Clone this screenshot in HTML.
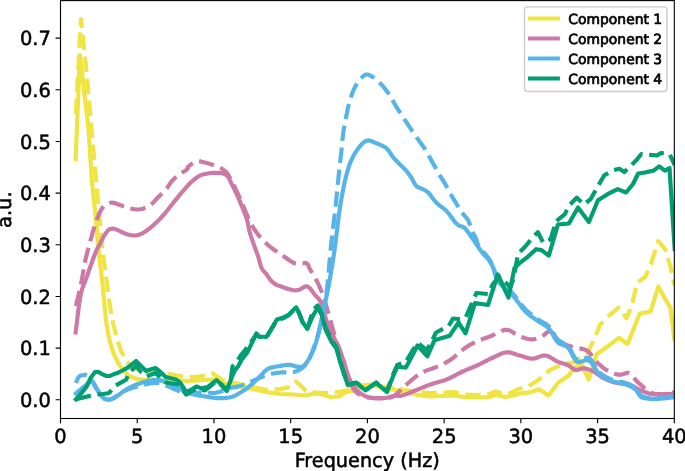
<!DOCTYPE html>
<html><head><meta charset="utf-8"><style>html,body{margin:0;padding:0;background:#fff;overflow:hidden}svg{display:block}text{text-rendering:geometricPrecision}</style></head><body>
<svg width="685" height="471" viewBox="0 0 685 471">
<defs><clipPath id="ax"><rect x="60.5" y="0.6" width="613.8" height="417.9"/></clipPath></defs>
<rect width="685" height="471" fill="#fff"/>
<g clip-path="url(#ax)" fill="none" stroke-linejoin="round">
<path d="M75.6,159.0 L80.0,55.0 L84.6,95.0 L88.6,130.0 L91.8,180.0 L96.0,220.0 L98.5,250.0 L101.5,275.0 L104.0,300.0 L106.2,322.3 L109.1,338.7 L113.6,353.6 L118.8,364.0 L123.3,370.0 L128.8,376.0 L137.5,379.0 L148.0,380.0 L159.4,381.0 L172.4,380.0 L188.5,381.0 L204.5,380.0 L214.0,379.5 L220.6,382.8 L236.6,386.0 L252.7,389.2 L268.7,392.4 L280.0,394.0 L293.0,394.5 L306.0,395.5 L314.0,393.5 L323.0,394.5 L330.0,397.0 L339.0,396.5 L346.0,392.0 L354.0,391.0 L364.0,386.0 L370.0,385.0 L380.0,387.0 L391.0,389.0 L404.0,392.0 L418.0,395.0 L431.0,396.5 L444.0,396.0 L455.0,395.5 L463.0,397.0 L476.0,397.5 L489.0,397.0 L496.0,395.0 L505.0,397.0 L513.0,395.5 L520.0,393.5 L529.2,392.4 L538.9,389.2 L548.5,395.6 L558.1,382.8 L567.8,376.3 L575.8,366.7 L582.2,365.1 L588.6,379.5 L596.7,353.9 L606.3,347.4 L619.1,337.8 L627.5,344.0 L639.8,313.5 L650.5,311.6 L658.4,286.4 L665.1,299.0 L670.4,307.6 L674.3,339.0" stroke="#F0E442" stroke-width="4.17" stroke-linecap="square"/>
<path d="M75.9,114.0 L80.9,19.2 L86.3,69.0 L91.6,130.0 L96.2,180.0 L102.5,250.0 L106.5,280.0 L109.1,300.0 L112.1,319.3 L116.6,337.2 L121.0,350.6 L126.3,361.0 L132.2,367.0 L140.0,371.0 L150.0,373.0 L160.0,374.0 L170.0,374.0 L182.0,376.5 L195.0,377.0 L202.0,376.0 L213.0,373.5 L222.0,380.0 L236.0,383.0 L252.0,387.0 L268.0,390.0 L280.0,389.0 L288.0,387.5 L296.0,381.5 L300.0,385.0 L306.0,391.0 L315.0,392.5 L325.0,393.0 L335.0,392.5 L346.0,390.5 L356.0,388.0 L364.0,385.0 L370.0,384.5 L380.0,386.0 L391.0,387.5 L404.0,390.0 L418.0,392.0 L431.0,393.0 L444.0,392.5 L455.0,392.0 L463.0,394.5 L476.0,395.0 L489.0,394.0 L496.0,391.5 L505.0,394.5 L513.0,392.0 L518.3,389.0 L526.2,387.7 L532.0,384.0 L538.9,379.5 L550.1,369.9 L561.3,365.1 L574.2,361.9 L587.0,353.9 L593.5,341.0 L599.9,325.0 L609.5,315.3 L618.6,307.6 L626.6,318.3 L631.9,305.0 L637.2,282.4 L645.2,277.1 L650.5,265.2 L658.4,241.2 L665.1,249.2 L670.4,266.5 L674.3,285.0" stroke="#F0E442" stroke-width="4.17" stroke-linecap="butt" stroke-dasharray="15.43 6.67"/>
<path d="M75.6,332.5 L76.5,325.5 L77.4,318.2 L78.3,310.8 L79.2,303.8 L80.2,297.4 L81.3,292.0 L82.0,289.4 L82.8,287.1 L83.6,285.0 L84.4,283.1 L85.2,281.1 L86.0,279.0 L86.8,276.8 L87.5,274.7 L88.3,272.5 L89.0,270.3 L89.8,268.1 L90.6,265.8 L91.6,263.2 L92.6,260.3 L93.6,257.5 L94.6,254.7 L95.7,252.2 L96.6,250.0 L97.2,248.9 L97.7,247.9 L98.2,247.0 L98.7,246.1 L99.3,245.2 L99.8,244.2 L100.5,242.9 L101.1,241.5 L101.8,240.1 L102.5,238.7 L103.2,237.3 L104.0,236.0 L104.8,234.8 L105.6,233.5 L106.4,232.3 L107.3,231.2 L108.2,230.2 L109.1,229.5 L109.9,229.1 L110.7,228.9 L111.5,228.8 L112.4,228.7 L113.2,228.7 L114.0,228.8 L114.7,228.9 L115.4,229.1 L116.1,229.4 L116.8,229.7 L117.5,230.1 L118.3,230.4 L119.3,230.9 L120.5,231.4 L121.6,232.0 L122.8,232.5 L123.9,233.1 L125.0,233.5 L125.9,233.8 L126.7,234.1 L127.5,234.4 L128.3,234.6 L129.2,234.8 L130.0,235.0 L130.8,235.2 L131.6,235.3 L132.5,235.4 L133.3,235.5 L134.1,235.5 L135.0,235.5 L136.0,235.4 L136.9,235.3 L137.9,235.1 L138.9,234.8 L139.9,234.4 L141.0,234.0 L142.7,233.1 L144.5,232.0 L146.4,230.7 L148.3,229.3 L150.2,227.8 L152.1,226.3 L154.1,224.5 L156.2,222.6 L158.2,220.6 L160.2,218.6 L162.1,216.5 L164.0,214.4 L165.8,212.3 L167.5,210.2 L169.2,208.0 L170.9,205.8 L172.6,203.7 L174.2,201.6 L175.7,199.8 L177.1,198.1 L178.5,196.4 L179.9,194.7 L181.3,193.0 L182.7,191.4 L184.1,189.8 L185.5,188.2 L186.9,186.6 L188.3,185.0 L189.7,183.5 L191.2,182.1 L192.6,180.8 L194.1,179.6 L195.7,178.3 L197.2,177.2 L198.6,176.3 L200.0,175.5 L200.9,175.1 L201.7,174.8 L202.5,174.6 L203.2,174.4 L204.1,174.2 L205.0,174.0 L206.3,173.7 L207.8,173.5 L209.3,173.2 L210.9,173.0 L212.5,172.9 L214.0,172.8 L215.5,172.8 L217.1,172.8 L218.6,172.9 L220.1,173.0 L221.4,173.2 L222.6,173.4 L223.2,173.5 L223.7,173.7 L224.2,173.8 L224.6,174.0 L225.1,174.2 L225.5,174.5 L226.0,174.9 L226.6,175.3 L227.1,175.8 L227.6,176.3 L228.0,176.9 L228.5,177.5 L229.0,178.3 L229.5,179.2 L229.9,180.2 L230.3,181.2 L230.8,182.2 L231.3,183.3 L232.1,184.9 L233.0,186.5 L233.9,188.3 L234.8,190.1 L235.7,192.0 L236.6,193.8 L237.5,195.8 L238.4,197.8 L239.2,199.8 L240.1,201.9 L240.9,204.0 L241.8,206.1 L242.7,208.4 L243.7,210.7 L244.6,213.1 L245.5,215.5 L246.4,217.8 L247.1,220.1 L247.6,222.1 L248.1,224.1 L248.4,226.1 L248.8,228.0 L249.2,230.0 L249.7,232.0 L250.3,234.2 L251.0,236.3 L251.7,238.5 L252.5,240.7 L253.3,242.9 L254.0,245.0 L254.7,246.9 L255.3,248.7 L256.0,250.5 L256.7,252.3 L257.3,254.1 L258.0,256.0 L258.7,258.2 L259.3,260.5 L259.9,262.8 L260.5,265.0 L261.2,267.1 L262.0,268.9 L262.7,269.9 L263.4,270.9 L264.1,271.7 L264.9,272.4 L265.7,273.2 L266.4,274.1 L267.1,275.1 L267.8,276.2 L268.5,277.3 L269.3,278.3 L270.0,279.4 L270.8,280.3 L271.6,281.1 L272.4,281.9 L273.3,282.7 L274.2,283.4 L275.1,284.0 L276.0,284.6 L277.0,285.1 L278.0,285.5 L279.0,285.8 L280.0,286.1 L281.1,286.5 L282.1,286.8 L283.1,287.2 L284.2,287.6 L285.2,288.0 L286.2,288.3 L287.3,288.7 L288.3,289.0 L289.3,289.3 L290.3,289.6 L291.4,289.8 L292.4,290.1 L293.4,290.2 L294.4,290.3 L295.3,290.3 L296.2,290.2 L297.1,290.1 L297.9,290.0 L298.8,289.8 L299.7,289.5 L300.7,289.1 L301.8,288.4 L302.8,287.7 L303.9,287.1 L304.9,286.6 L305.8,286.4 L306.4,286.4 L307.0,286.5 L307.6,286.7 L308.2,287.0 L308.7,287.3 L309.3,287.7 L310.2,288.5 L311.0,289.5 L311.9,290.7 L312.8,291.9 L313.6,293.2 L314.5,294.3 L315.4,295.3 L316.3,296.3 L317.3,297.3 L318.2,298.3 L319.0,299.3 L319.8,300.4 L320.5,301.6 L321.1,302.8 L321.6,304.0 L322.1,305.3 L322.5,306.6 L323.0,308.0 L323.5,309.6 L324.0,311.3 L324.4,313.1 L324.8,314.9 L325.3,316.7 L325.9,318.6 L326.7,320.9 L327.6,323.2 L328.5,325.6 L329.5,328.0 L330.5,330.3 L331.4,332.4 L332.1,333.9 L332.8,335.4 L333.5,336.8 L334.2,338.2 L334.9,339.5 L335.5,340.7 L335.9,341.5 L336.4,342.2 L336.7,342.9 L337.1,343.6 L337.6,344.4 L338.0,345.3 L338.9,347.5 L339.9,350.0 L340.9,352.9 L341.9,356.0 L343.0,359.0 L344.0,362.0 L345.0,365.1 L345.9,368.3 L346.9,371.6 L347.9,374.7 L349.0,377.8 L350.2,380.5 L351.3,382.6 L352.4,384.5 L353.6,386.4 L354.9,388.1 L356.3,389.7 L357.8,391.2 L359.4,392.5 L361.0,393.7 L362.8,394.8 L364.6,395.8 L366.5,396.6 L368.5,397.3 L370.9,397.8 L373.4,398.2 L376.1,398.3 L378.8,398.3 L381.4,398.3 L383.8,398.1 L385.8,397.9 L387.8,397.5 L389.7,397.0 L391.5,396.5 L393.3,396.1 L395.0,395.8 L396.2,395.7 L397.3,395.7 L398.3,395.8 L399.4,395.8 L400.5,395.8 L401.7,395.6 L403.6,395.1 L405.6,394.4 L407.8,393.6 L410.0,392.7 L412.2,391.7 L414.5,390.8 L417.1,389.8 L419.7,388.7 L422.4,387.6 L425.2,386.5 L427.9,385.4 L430.6,384.4 L433.3,383.5 L435.9,382.8 L438.6,382.0 L441.3,381.3 L444.0,380.5 L446.6,379.5 L449.3,378.3 L452.0,377.0 L454.7,375.6 L457.4,374.2 L460.0,372.8 L462.7,371.5 L465.2,370.4 L467.8,369.3 L470.4,368.3 L472.9,367.2 L475.4,366.2 L477.8,365.1 L480.0,364.0 L482.1,363.0 L484.2,361.9 L486.3,360.8 L488.5,359.7 L490.7,358.7 L493.3,357.5 L495.9,356.1 L498.7,354.8 L501.4,353.6 L504.1,352.7 L506.7,352.3 L508.9,352.4 L511.1,352.8 L513.2,353.4 L515.3,354.1 L517.5,354.9 L519.6,355.5 L521.7,356.1 L523.9,356.8 L526.0,357.5 L528.1,358.1 L530.3,358.5 L532.4,358.7 L534.6,358.4 L536.7,357.8 L538.9,356.9 L541.0,356.1 L543.2,355.6 L545.3,355.5 L547.5,356.0 L549.7,357.0 L551.8,358.3 L554.0,359.6 L556.1,360.9 L558.1,361.9 L559.8,362.5 L561.5,363.0 L563.1,363.5 L564.7,364.0 L566.3,364.5 L567.8,365.1 L569.2,365.9 L570.5,366.8 L571.8,367.8 L573.1,368.7 L574.4,369.5 L575.8,369.9 L577.1,369.9 L578.4,369.6 L579.7,369.2 L581.1,368.7 L582.4,368.4 L583.8,368.3 L585.4,368.5 L587.0,368.9 L588.6,369.4 L590.3,370.0 L591.9,370.7 L593.5,371.5 L595.1,372.4 L596.7,373.5 L598.2,374.6 L599.8,375.8 L601.4,376.9 L603.1,377.9 L605.1,378.9 L607.2,379.8 L609.3,380.7 L611.5,381.5 L613.7,382.2 L615.9,382.8 L618.1,383.2 L620.3,383.4 L622.5,383.6 L624.7,383.7 L626.8,383.9 L628.8,384.4 L630.5,385.0 L632.1,385.8 L633.6,386.6 L635.2,387.5 L636.7,388.4 L638.4,389.2 L640.4,390.1 L642.6,391.0 L644.8,392.0 L647.0,392.8 L649.2,393.5 L651.3,394.0 L652.9,394.2 L654.5,394.3 L656.1,394.2 L657.6,394.1 L659.2,394.0 L660.9,394.0 L663.0,394.0 L665.3,394.0 L667.6,394.0 L669.9,394.0 L672.2,394.0 L674.5,394.0" stroke="#CC79A7" stroke-width="4.17" stroke-linecap="square"/>
<path d="M75.9,306.0 L76.8,302.1 L77.8,298.1 L78.7,294.2 L79.6,290.2 L80.5,286.3 L81.3,282.5 L82.0,278.9 L82.6,275.4 L83.2,271.9 L83.8,268.5 L84.4,265.0 L85.1,261.5 L85.9,257.9 L86.8,254.3 L87.7,250.7 L88.6,247.1 L89.6,243.5 L90.6,240.0 L91.6,236.5 L92.5,232.9 L93.6,229.4 L94.6,226.0 L95.7,222.7 L96.8,219.6 L97.8,217.2 L98.7,214.9 L99.7,212.7 L100.8,210.6 L101.8,208.8 L102.9,207.3 L103.6,206.5 L104.2,205.9 L104.9,205.3 L105.5,204.8 L106.3,204.4 L107.0,204.0 L107.8,203.6 L108.6,203.3 L109.5,203.0 L110.4,202.8 L111.3,202.7 L112.2,202.7 L113.4,202.8 L114.7,203.1 L115.9,203.5 L117.3,204.0 L118.6,204.5 L120.0,205.0 L121.6,205.5 L123.2,206.2 L124.9,206.8 L126.6,207.4 L128.3,208.0 L130.0,208.4 L131.7,208.7 L133.4,209.1 L135.1,209.3 L136.8,209.5 L138.5,209.5 L140.2,209.3 L142.0,208.9 L143.7,208.4 L145.5,207.7 L147.2,206.9 L148.9,206.0 L150.4,205.0 L151.7,204.0 L152.8,203.0 L153.9,201.8 L155.0,200.6 L156.1,199.4 L157.2,198.2 L158.6,196.8 L160.0,195.5 L161.5,194.1 L162.9,192.6 L164.4,191.2 L165.7,189.7 L166.9,188.2 L168.0,186.6 L169.1,184.9 L170.2,183.3 L171.3,181.8 L172.5,180.4 L173.6,179.3 L174.7,178.2 L175.8,177.2 L176.9,176.3 L178.1,175.3 L179.3,174.4 L180.8,173.3 L182.6,172.2 L184.4,171.2 L186.0,170.1 L187.2,169.2 L187.8,168.5 L187.8,168.3 L187.8,168.1 L187.6,168.0 L187.5,167.8 L187.5,167.7 L187.5,167.5 L188.2,166.6 L189.5,165.5 L191.3,164.2 L193.3,163.0 L195.4,162.0 L197.2,161.4 L198.8,161.3 L200.3,161.4 L201.9,161.7 L203.6,162.2 L205.2,162.6 L206.8,163.1 L208.6,163.6 L210.4,164.1 L212.3,164.7 L214.1,165.4 L215.8,166.0 L217.3,166.6 L218.3,167.0 L219.2,167.5 L220.1,167.9 L221.0,168.3 L221.8,168.8 L222.6,169.3 L223.4,169.8 L224.2,170.4 L224.9,170.9 L225.6,171.6 L226.3,172.2 L227.0,173.0 L227.8,174.1 L228.5,175.3 L229.3,176.6 L230.0,178.0 L230.7,179.4 L231.5,181.0 L232.7,183.4 L234.1,186.0 L235.4,188.7 L236.8,191.6 L238.3,194.7 L239.8,197.8 L241.8,202.3 L243.8,207.2 L245.9,212.4 L248.1,217.5 L250.3,222.4 L252.7,226.7 L254.7,229.8 L256.7,232.7 L258.7,235.4 L260.9,237.9 L263.1,240.4 L265.5,242.8 L268.2,245.2 L271.0,247.5 L274.0,249.7 L277.0,251.7 L280.0,253.7 L282.8,255.6 L285.0,257.2 L287.2,258.8 L289.3,260.3 L291.4,261.7 L293.6,262.8 L295.7,263.6 L297.7,263.9 L299.8,263.7 L301.9,263.4 L303.8,263.2 L305.6,263.1 L306.9,263.5 L307.5,264.0 L308.0,264.7 L308.3,265.4 L308.6,266.3 L308.9,267.1 L309.3,268.0 L310.1,269.3 L310.9,270.7 L311.8,272.3 L312.8,273.8 L313.7,275.3 L314.5,276.8 L315.2,278.1 L315.9,279.4 L316.6,280.6 L317.2,281.9 L317.9,283.2 L318.5,284.5 L319.2,286.0 L319.8,287.5 L320.5,289.0 L321.1,290.6 L321.8,292.2 L322.4,293.8 L323.1,295.6 L323.7,297.5 L324.3,299.4 L324.9,301.4 L325.5,303.5 L326.2,305.7 L327.2,309.0 L328.2,312.6 L329.3,316.3 L330.4,320.2 L331.5,324.2 L332.6,328.2 L333.9,332.9 L335.2,337.7 L336.5,342.7 L337.8,347.6 L339.2,352.5 L340.6,357.1 L341.9,361.1 L343.2,365.1 L344.5,368.9 L345.9,372.7 L347.3,376.2 L348.7,379.5 L349.8,381.9 L350.9,384.3 L352.0,386.5 L353.2,388.5 L354.5,390.4 L356.0,392.0 L357.4,393.2 L359.0,394.2 L360.6,395.1 L362.4,395.8 L364.2,396.5 L366.0,397.0 L368.2,397.5 L370.5,397.8 L372.9,397.9 L375.3,398.0 L377.7,398.0 L380.0,398.0 L382.1,398.0 L384.1,398.1 L386.1,398.1 L388.1,398.0 L390.1,397.6 L392.0,397.0 L394.2,395.8 L396.4,394.1 L398.4,392.2 L400.5,390.1 L402.7,388.0 L404.9,386.0 L407.4,383.8 L410.0,381.5 L412.7,379.2 L415.4,377.0 L418.1,374.9 L420.9,373.1 L423.5,371.7 L426.2,370.6 L429.0,369.6 L431.7,368.7 L434.4,367.7 L437.0,366.7 L439.2,365.7 L441.4,364.8 L443.5,363.8 L445.6,362.7 L447.7,361.6 L449.8,360.3 L452.5,358.4 L455.2,356.2 L457.9,353.9 L460.6,351.5 L463.3,349.3 L465.9,347.4 L467.9,346.1 L469.9,344.9 L471.9,343.9 L473.8,342.9 L475.8,341.9 L477.8,341.0 L479.9,340.1 L482.0,339.3 L484.1,338.6 L486.3,337.8 L488.5,337.0 L490.7,336.2 L493.3,335.0 L496.0,333.6 L498.7,332.2 L501.5,330.9 L504.1,330.1 L506.7,329.8 L508.9,330.2 L511.1,331.2 L513.2,332.5 L515.3,333.9 L517.4,335.2 L519.6,336.2 L521.7,337.0 L523.9,337.7 L526.1,338.4 L528.3,339.0 L530.4,339.3 L532.4,339.4 L534.1,339.2 L535.8,338.8 L537.4,338.3 L539.0,337.6 L540.6,336.9 L542.1,336.2 L543.5,335.4 L544.8,334.3 L546.1,333.2 L547.4,332.2 L548.8,331.5 L550.1,331.4 L551.9,332.2 L553.7,333.9 L555.5,336.2 L557.3,338.6 L559.3,340.9 L561.3,342.6 L563.3,343.7 L565.4,344.7 L567.6,345.4 L569.8,346.1 L572.0,346.8 L574.2,347.4 L576.4,347.9 L578.6,348.3 L580.8,348.6 L583.0,349.1 L585.1,349.7 L587.0,350.6 L588.8,352.0 L590.5,353.9 L592.1,355.9 L593.6,358.0 L595.1,360.1 L596.7,361.9 L598.2,363.4 L599.8,364.9 L601.3,366.2 L602.9,367.6 L604.5,368.8 L606.3,369.9 L608.3,371.0 L610.4,372.0 L612.6,373.0 L614.8,373.8 L617.0,374.4 L619.1,374.7 L620.8,374.6 L622.5,374.2 L624.1,373.7 L625.7,373.2 L627.3,372.9 L628.8,373.1 L630.5,374.0 L632.0,375.4 L633.5,377.2 L635.0,379.1 L636.6,381.1 L638.4,382.8 L640.8,384.8 L643.3,387.0 L645.9,389.2 L648.7,391.2 L651.5,392.9 L654.5,394.0 L657.6,394.5 L660.9,394.4 L664.3,394.0 L667.7,393.4 L671.1,392.8 L674.5,392.4" stroke="#CC79A7" stroke-width="4.17" stroke-linecap="butt" stroke-dasharray="15.43 6.67"/>
<path d="M75.9,393.5 L76.6,392.9 L77.2,392.3 L77.9,391.8 L78.6,391.2 L79.3,390.6 L80.0,390.0 L80.9,389.3 L81.7,388.5 L82.7,387.8 L83.6,387.0 L84.5,386.3 L85.3,385.6 L86.0,385.0 L86.6,384.4 L87.2,383.8 L87.8,383.3 L88.4,382.9 L89.0,382.5 L89.5,382.3 L90.1,382.1 L90.6,381.9 L91.2,381.8 L91.7,381.9 L92.2,382.0 L92.8,382.5 L93.3,383.2 L93.8,384.1 L94.2,385.1 L94.7,386.1 L95.2,387.0 L95.8,387.9 L96.4,388.8 L97.1,389.7 L97.7,390.6 L98.4,391.5 L99.0,392.4 L99.6,393.3 L100.2,394.2 L100.8,395.1 L101.5,396.0 L102.1,396.8 L102.8,397.5 L103.4,398.0 L104.0,398.4 L104.6,398.8 L105.3,399.1 L106.0,399.3 L106.7,399.5 L107.6,399.6 L108.6,399.5 L109.7,399.4 L110.8,399.2 L111.8,398.9 L112.8,398.6 L113.7,398.2 L114.6,397.8 L115.4,397.2 L116.3,396.7 L117.1,396.1 L118.0,395.5 L119.0,394.8 L119.9,394.1 L120.9,393.3 L121.9,392.5 L122.9,391.7 L124.0,391.0 L125.2,390.2 L126.5,389.4 L127.9,388.7 L129.2,387.9 L130.6,387.2 L132.0,386.5 L133.5,385.8 L134.9,385.2 L136.4,384.6 L138.0,384.1 L139.5,383.5 L141.0,383.0 L142.5,382.5 L144.0,382.0 L145.5,381.6 L147.0,381.1 L148.5,380.8 L150.0,380.5 L151.4,380.3 L152.7,380.1 L154.0,380.0 L155.4,379.9 L156.7,379.9 L158.0,380.0 L159.3,380.2 L160.6,380.4 L161.9,380.7 L163.2,381.0 L164.6,381.5 L166.0,382.0 L168.2,382.9 L170.6,384.1 L173.0,385.4 L175.5,386.7 L177.8,387.9 L180.0,389.0 L181.5,389.7 L182.8,390.3 L184.1,390.9 L185.4,391.5 L186.7,392.0 L188.0,392.5 L189.3,393.0 L190.6,393.4 L192.0,393.9 L193.3,394.3 L194.6,394.7 L196.0,395.0 L197.4,395.3 L198.9,395.6 L200.4,395.8 L201.9,396.0 L203.4,396.2 L205.0,396.4 L207.0,396.7 L209.1,397.1 L211.3,397.5 L213.6,397.8 L215.8,398.1 L218.0,398.2 L220.2,398.2 L222.5,398.2 L224.8,398.1 L227.0,397.8 L229.2,397.5 L231.3,397.0 L233.2,396.4 L235.0,395.6 L236.7,394.8 L238.4,393.8 L240.1,392.8 L241.8,391.8 L243.6,390.6 L245.4,389.4 L247.2,388.1 L248.9,386.7 L250.6,385.3 L252.3,383.9 L253.9,382.4 L255.5,380.8 L257.1,379.2 L258.6,377.6 L260.1,376.1 L261.5,374.7 L262.6,373.6 L263.7,372.5 L264.7,371.4 L265.7,370.5 L266.9,369.6 L268.1,368.8 L269.7,368.1 L271.3,367.6 L273.1,367.2 L275.0,366.8 L276.8,366.5 L278.6,366.2 L280.3,365.9 L282.1,365.6 L283.8,365.3 L285.5,365.1 L287.3,364.9 L289.1,364.9 L291.2,365.1 L293.5,365.7 L295.8,366.4 L298.0,366.9 L300.2,367.1 L302.1,366.7 L304.0,365.5 L305.8,363.7 L307.4,361.5 L309.0,359.0 L310.4,356.4 L311.7,353.9 L313.0,351.1 L314.2,348.0 L315.2,344.9 L316.2,341.6 L317.1,338.3 L318.0,335.0 L318.9,331.3 L319.8,327.5 L320.6,323.6 L321.4,319.7 L322.2,315.8 L323.0,312.0 L323.8,308.4 L324.6,304.9 L325.4,301.3 L326.2,297.8 L327.0,294.0 L327.8,290.0 L328.9,284.3 L330.0,278.3 L331.1,271.9 L332.2,265.4 L333.2,258.9 L334.2,252.4 L335.1,245.6 L336.0,238.6 L336.9,231.5 L337.7,224.5 L338.5,218.0 L339.3,212.0 L339.9,208.1 L340.4,204.6 L341.0,201.2 L341.6,197.9 L342.2,194.6 L342.8,191.3 L343.5,188.0 L344.1,184.7 L344.8,181.4 L345.6,178.2 L346.4,175.0 L347.2,172.0 L348.0,169.5 L348.7,167.1 L349.5,164.7 L350.4,162.4 L351.4,160.2 L352.4,158.0 L353.5,155.8 L354.8,153.6 L356.1,151.4 L357.5,149.4 L358.9,147.5 L360.3,145.8 L361.4,144.6 L362.5,143.5 L363.7,142.4 L364.8,141.6 L366.0,140.9 L367.3,140.5 L368.7,140.4 L370.1,140.7 L371.6,141.2 L373.1,141.8 L374.6,142.5 L376.1,143.1 L377.9,143.8 L379.7,144.6 L381.6,145.4 L383.4,146.3 L385.1,147.3 L386.6,148.4 L387.7,149.5 L388.6,150.6 L389.5,151.9 L390.3,153.1 L391.0,154.3 L391.8,155.4 L392.4,156.2 L392.9,156.9 L393.4,157.6 L394.0,158.3 L394.6,159.0 L395.3,159.8 L396.8,161.3 L398.5,163.1 L400.4,164.9 L402.4,166.8 L404.2,168.6 L405.8,170.3 L406.8,171.5 L407.8,172.7 L408.6,173.8 L409.5,174.9 L410.3,176.1 L411.1,177.3 L412.0,178.8 L412.9,180.4 L413.7,182.1 L414.6,183.6 L415.5,185.0 L416.4,186.1 L417.0,186.6 L417.5,186.9 L418.1,187.2 L418.7,187.4 L419.3,187.7 L420.0,188.0 L421.0,188.5 L422.2,188.9 L423.4,189.4 L424.6,190.0 L425.8,190.7 L427.0,191.5 L428.6,193.0 L430.2,194.8 L431.7,196.9 L433.3,199.0 L434.9,201.1 L436.6,202.9 L438.2,204.3 L439.8,205.6 L441.4,206.8 L443.0,208.0 L444.7,209.3 L446.3,210.8 L448.2,213.0 L450.2,215.5 L452.1,218.2 L454.0,220.8 L455.9,223.1 L457.7,224.8 L458.8,225.5 L459.8,225.9 L460.9,226.2 L461.9,226.5 L462.9,226.9 L463.8,227.4 L464.8,228.2 L465.7,229.2 L466.6,230.2 L467.4,231.4 L468.3,232.5 L469.1,233.6 L469.9,234.7 L470.7,235.8 L471.5,236.9 L472.3,238.1 L473.1,239.3 L474.0,240.5 L475.1,242.1 L476.2,243.8 L477.3,245.6 L478.5,247.4 L479.7,249.2 L481.0,251.0 L482.4,252.8 L483.9,254.5 L485.5,256.2 L487.1,258.0 L488.5,259.7 L489.8,261.5 L490.9,263.2 L491.9,265.0 L492.8,266.8 L493.6,268.6 L494.3,270.3 L495.0,272.0 L495.4,273.4 L495.6,274.7 L495.8,276.0 L496.1,277.3 L496.4,278.6 L497.1,280.0 L498.9,282.5 L501.4,285.0 L504.3,287.7 L507.5,290.5 L510.5,293.2 L513.2,296.0 L515.5,298.7 L517.6,301.5 L519.6,304.3 L521.7,307.1 L523.8,309.7 L526.0,312.1 L528.1,314.0 L530.3,315.7 L532.5,317.3 L534.7,318.8 L536.8,320.3 L538.9,321.7 L540.6,322.8 L542.3,323.8 L543.9,324.7 L545.5,325.7 L547.0,326.9 L548.5,328.2 L550.2,330.3 L551.8,332.8 L553.3,335.5 L554.8,338.2 L556.4,340.7 L558.1,342.6 L559.6,343.7 L561.3,344.4 L563.0,345.0 L564.6,345.6 L566.3,346.3 L567.8,347.4 L569.5,349.5 L571.0,352.2 L572.5,355.2 L574.0,358.1 L575.6,360.4 L577.4,361.9 L579.1,362.2 L581.0,361.8 L582.9,361.1 L584.9,360.4 L586.8,360.0 L588.6,360.3 L590.6,361.7 L592.5,364.0 L594.2,366.8 L596.0,369.8 L597.9,372.5 L599.9,374.7 L601.9,376.2 L603.9,377.4 L606.1,378.5 L608.3,379.5 L610.5,380.4 L612.7,381.2 L614.8,381.9 L617.0,382.4 L619.3,382.8 L621.5,383.3 L623.6,383.8 L625.6,384.4 L627.3,385.1 L629.1,385.7 L630.7,386.5 L632.3,387.3 L633.8,388.2 L635.2,389.2 L636.4,390.4 L637.3,391.8 L638.2,393.4 L639.2,394.9 L640.2,396.2 L641.6,397.2 L643.8,398.0 L646.3,398.5 L649.1,398.8 L652.0,398.8 L654.9,398.8 L657.7,398.8 L660.5,398.7 L663.3,398.5 L666.1,398.2 L668.9,397.9 L671.7,397.5 L674.5,397.2" stroke="#56B4E9" stroke-width="4.17" stroke-linecap="square"/>
<path d="M75.9,383.0 L76.4,381.8 L76.9,380.6 L77.4,379.3 L77.9,378.2 L78.5,377.2 L79.2,376.4 L79.8,376.0 L80.4,375.7 L81.0,375.5 L81.7,375.4 L82.4,375.3 L83.0,375.2 L83.6,375.1 L84.1,375.0 L84.7,374.9 L85.3,374.9 L85.8,374.9 L86.4,375.0 L87.0,375.2 L87.6,375.5 L88.2,375.9 L88.8,376.4 L89.4,376.9 L90.0,377.5 L90.9,378.5 L91.7,379.8 L92.5,381.2 L93.4,382.7 L94.2,384.1 L95.0,385.5 L95.8,386.8 L96.5,388.1 L97.2,389.4 L98.0,390.6 L98.7,391.8 L99.5,393.0 L100.2,394.0 L100.9,395.1 L101.6,396.1 L102.3,397.1 L103.1,397.9 L104.0,398.5 L104.9,398.9 L105.9,399.3 L106.9,399.5 L107.9,399.6 L109.0,399.6 L110.0,399.5 L111.1,399.2 L112.1,398.7 L113.2,398.1 L114.3,397.4 L115.3,396.7 L116.4,396.0 L117.6,395.3 L118.7,394.5 L119.9,393.7 L121.1,392.9 L122.3,392.2 L123.5,391.5 L124.8,390.8 L126.2,390.2 L127.7,389.6 L129.1,389.0 L130.5,388.5 L132.0,388.0 L133.5,387.5 L135.0,387.1 L136.5,386.7 L138.0,386.3 L139.5,385.9 L141.0,385.5 L142.5,385.1 L144.0,384.7 L145.5,384.4 L147.0,384.0 L148.5,383.7 L150.0,383.5 L151.4,383.3 L152.7,383.1 L154.0,383.0 L155.4,382.9 L156.7,382.9 L158.0,383.0 L159.3,383.2 L160.6,383.5 L161.9,384.0 L163.2,384.4 L164.6,385.0 L166.0,385.5 L168.2,386.4 L170.5,387.4 L173.0,388.5 L175.5,389.7 L177.8,390.7 L180.0,391.5 L181.4,392.0 L182.8,392.4 L184.1,392.8 L185.4,393.1 L186.7,393.3 L188.0,393.5 L189.3,393.6 L190.6,393.5 L192.0,393.4 L193.3,393.3 L194.6,393.1 L196.0,393.0 L197.5,392.8 L199.0,392.6 L200.5,392.3 L202.0,392.0 L203.5,391.9 L205.0,391.8 L206.3,391.9 L207.7,392.2 L209.0,392.5 L210.2,392.8 L211.6,393.0 L212.9,393.1 L214.4,393.0 L215.9,392.7 L217.4,392.3 L218.9,391.9 L220.5,391.5 L222.0,391.0 L223.6,390.5 L225.1,390.0 L226.6,389.4 L228.2,388.8 L229.7,388.3 L231.3,387.8 L232.8,387.4 L234.4,387.1 L236.0,386.9 L237.5,386.6 L239.0,386.3 L240.5,385.9 L241.9,385.4 L243.2,384.9 L244.5,384.3 L245.8,383.7 L247.1,383.2 L248.4,382.6 L249.7,382.1 L250.9,381.6 L252.1,381.1 L253.3,380.6 L254.6,380.1 L256.0,379.5 L257.9,378.7 L259.8,377.9 L261.9,377.0 L264.0,376.1 L266.1,375.4 L268.1,374.7 L269.9,374.2 L271.6,373.8 L273.4,373.5 L275.1,373.2 L276.9,372.9 L278.6,372.7 L280.4,372.5 L282.2,372.4 L284.0,372.3 L285.8,372.3 L287.5,372.2 L289.1,372.1 L290.3,372.0 L291.4,372.0 L292.5,372.0 L293.5,372.0 L294.6,371.8 L295.7,371.5 L297.3,370.9 L298.9,370.1 L300.6,369.1 L302.2,368.0 L303.8,366.6 L305.3,365.1 L307.2,362.4 L309.0,359.2 L310.6,355.6 L312.2,351.8 L313.6,347.9 L315.0,344.2 L316.3,340.6 L317.5,336.9 L318.5,333.2 L319.5,329.4 L320.5,325.6 L321.4,321.7 L322.3,317.6 L323.2,313.6 L324.0,309.5 L324.8,305.3 L325.5,300.8 L326.2,296.0 L327.1,288.6 L327.9,280.4 L328.7,271.8 L329.4,263.0 L330.2,254.3 L331.0,246.0 L331.8,238.8 L332.6,231.6 L333.5,224.5 L334.3,217.6 L335.1,210.8 L335.8,204.2 L336.4,198.5 L336.9,193.0 L337.5,187.5 L338.0,182.2 L338.5,177.1 L339.0,172.1 L339.4,168.1 L339.9,164.3 L340.3,160.5 L340.7,156.9 L341.1,153.4 L341.5,150.0 L341.8,147.4 L342.0,144.8 L342.2,142.4 L342.4,140.0 L342.7,137.6 L343.0,135.0 L343.4,131.9 L343.9,128.8 L344.5,125.5 L345.1,122.3 L345.7,119.1 L346.3,116.0 L346.9,113.2 L347.4,110.5 L348.0,107.8 L348.6,105.2 L349.3,102.6 L350.0,100.0 L350.8,97.5 L351.7,95.0 L352.6,92.6 L353.5,90.2 L354.5,88.0 L355.5,86.0 L356.2,84.7 L356.9,83.5 L357.6,82.5 L358.4,81.4 L359.1,80.5 L360.0,79.5 L360.9,78.5 L362.0,77.4 L363.0,76.4 L364.1,75.5 L365.3,74.8 L366.4,74.5 L367.5,74.5 L368.7,74.8 L369.9,75.4 L371.2,76.0 L372.3,76.8 L373.5,77.5 L374.7,78.3 L375.8,79.2 L377.0,80.1 L378.1,81.2 L379.2,82.3 L380.4,83.5 L382.0,85.2 L383.7,87.2 L385.4,89.3 L387.0,91.4 L388.6,93.5 L390.0,95.5 L391.0,97.1 L391.9,98.7 L392.7,100.3 L393.5,101.8 L394.4,103.4 L395.3,105.0 L396.4,106.8 L397.5,108.6 L398.7,110.5 L399.9,112.3 L401.1,114.2 L402.3,116.0 L403.5,117.8 L404.6,119.6 L405.8,121.3 L407.0,123.1 L408.1,124.8 L409.3,126.6 L410.5,128.3 L411.6,130.1 L412.8,131.8 L414.0,133.6 L415.2,135.3 L416.4,137.1 L417.8,139.1 L419.3,141.1 L420.7,143.1 L422.2,145.1 L423.7,147.2 L425.1,149.3 L426.5,151.6 L427.9,154.0 L429.2,156.4 L430.5,158.8 L431.8,161.2 L433.1,163.5 L434.3,165.6 L435.5,167.8 L436.7,169.9 L437.9,172.0 L439.0,174.0 L440.1,175.8 L440.9,177.1 L441.6,178.2 L442.3,179.3 L443.0,180.4 L443.7,181.5 L444.5,182.8 L445.5,184.5 L446.5,186.4 L447.6,188.4 L448.6,190.4 L449.7,192.4 L450.7,194.2 L451.6,195.7 L452.4,197.2 L453.3,198.6 L454.1,200.0 L455.0,201.4 L455.9,202.9 L456.9,204.5 L457.9,206.2 L458.9,207.8 L459.9,209.5 L460.9,211.1 L462.0,212.6 L463.0,213.9 L464.1,215.2 L465.2,216.5 L466.3,217.7 L467.3,219.0 L468.2,220.4 L468.9,221.9 L469.5,223.5 L470.1,225.2 L470.6,226.9 L471.1,228.5 L471.7,230.1 L472.4,231.6 L473.2,233.1 L473.9,234.5 L474.7,236.0 L475.4,237.4 L476.1,238.8 L476.6,240.0 L476.9,241.2 L477.2,242.3 L477.6,243.5 L478.1,244.7 L478.7,246.0 L480.1,248.1 L482.0,250.4 L484.1,252.8 L486.2,255.2 L488.3,257.8 L490.0,260.4 L491.4,263.2 L492.4,266.2 L493.4,269.2 L494.4,272.2 L495.5,275.2 L497.1,278.0 L499.3,280.9 L501.9,283.6 L504.8,286.2 L507.7,288.7 L510.6,291.3 L513.2,294.0 L515.5,296.7 L517.6,299.5 L519.6,302.3 L521.7,305.0 L523.8,307.6 L526.0,310.0 L528.1,311.9 L530.3,313.7 L532.5,315.4 L534.7,317.0 L536.8,318.6 L538.9,320.0 L540.6,321.1 L542.2,322.0 L543.9,322.8 L545.5,323.7 L547.0,324.7 L548.5,326.0 L550.2,328.0 L551.8,330.4 L553.3,333.0 L554.8,335.6 L556.4,338.0 L558.1,340.0 L559.6,341.2 L561.3,342.2 L563.0,343.0 L564.6,343.8 L566.3,344.8 L567.8,346.0 L569.5,348.1 L571.0,350.8 L572.5,353.7 L574.0,356.4 L575.6,358.6 L577.4,360.0 L579.1,360.2 L581.0,359.8 L582.9,359.0 L584.9,358.2 L586.8,357.8 L588.6,358.0 L590.6,359.4 L592.5,361.8 L594.3,364.7 L596.0,367.8 L597.9,370.7 L599.9,373.0 L601.9,374.5 L603.9,375.9 L606.1,377.1 L608.3,378.2 L610.5,379.1 L612.7,380.0 L614.8,380.7 L617.0,381.2 L619.3,381.6 L621.5,381.9 L623.6,382.4 L625.6,383.0 L627.3,383.7 L629.1,384.4 L630.7,385.2 L632.3,386.0 L633.8,387.0 L635.2,388.0 L636.4,389.2 L637.3,390.6 L638.2,392.2 L639.2,393.6 L640.2,395.0 L641.6,396.0 L643.8,396.9 L646.3,397.5 L649.1,397.8 L652.0,398.0 L654.9,398.0 L657.7,398.0 L660.5,397.9 L663.3,397.6 L666.1,397.3 L668.9,396.8 L671.7,396.4 L674.5,396.0" stroke="#56B4E9" stroke-width="4.17" stroke-linecap="butt" stroke-dasharray="15.43 6.67"/>
<path d="M75.9,399.3 L81.5,393.2 L86.8,386.3 L90.6,377.9 L95.0,372.0 L98.0,371.8 L102.1,374.1 L106.5,376.0 L110.0,375.8 L114.0,374.1 L118.2,372.7 L123.5,370.0 L128.1,367.4 L136.0,361.0 L141.0,366.0 L146.0,371.0 L150.4,369.5 L155.4,368.0 L161.0,372.5 L165.7,377.0 L176.0,379.5 L180.0,382.5 L186.1,392.0 L191.0,390.0 L196.3,386.5 L201.6,388.4 L207.6,387.1 L216.5,380.1 L221.6,384.5 L226.7,390.3 L230.5,380.7 L234.5,371.0 L238.0,366.5 L242.0,359.1 L247.1,352.7 L250.9,345.1 L256.4,333.5 L259.3,336.5 L266.4,337.0 L276.9,319.5 L282.7,317.8 L288.5,314.9 L296.1,307.3 L299.0,312.5 L302.6,321.9 L307.2,328.9 L313.1,315.4 L317.7,308.0 L321.8,315.0 L325.7,330.0 L331.8,342.2 L336.4,348.4 L340.2,362.1 L344.1,374.4 L347.9,385.1 L356.3,382.8 L365.5,390.4 L376.2,382.8 L386.9,392.0 L392.0,378.9 L397.2,366.7 L405.9,367.6 L411.0,358.0 L417.5,345.5 L427.3,356.4 L434.4,340.3 L449.6,335.8 L458.5,322.5 L465.5,333.3 L475.0,303.0 L488.0,305.0 L497.8,274.5 L508.5,297.5 L514.4,268.2 L519.9,262.8 L527.1,257.4 L536.1,249.2 L541.5,250.1 L548.8,255.6 L554.2,237.5 L557.9,224.5 L568.9,223.5 L578.0,207.5 L588.9,222.0 L598.0,200.3 L607.5,194.2 L617.7,189.1 L626.1,192.5 L633.0,184.0 L638.2,173.5 L644.9,172.5 L653.5,170.6 L659.2,166.3 L664.9,170.6 L669.5,168.0 L674.7,249.0" stroke="#009E73" stroke-width="4.17" stroke-linecap="square"/>
<path d="M75.9,399.3 L89.9,395.9 L96.7,394.4 L103.0,394.0 L108.4,393.2 L110.0,392.0 L114.6,386.1 L126.0,379.8 L129.6,372.2 L136.0,366.0 L141.0,372.0 L146.2,376.5 L155.4,373.0 L165.7,382.5 L178.9,384.5 L186.1,394.5 L196.3,388.8 L205.0,390.5 L216.5,381.0 L221.6,385.5 L226.7,391.0 L230.5,381.5 L232.5,366.5 L237.5,360.5 L241.5,354.5 L245.6,349.5 L249.4,344.0 L256.4,334.5 L259.3,337.0 L266.4,337.5 L276.9,320.0 L282.7,318.5 L288.5,315.5 L296.1,307.8 L299.0,313.0 L302.6,322.5 L307.2,329.5 L313.1,310.0 L317.7,305.5 L321.8,314.0 L325.7,328.0 L331.8,340.5 L336.4,347.0 L340.2,361.0 L344.1,373.5 L347.9,384.5 L356.3,382.5 L365.5,390.0 L376.2,382.5 L386.9,391.5 L392.0,377.0 L397.2,365.0 L405.9,362.0 L412.8,350.0 L418.0,343.0 L426.7,350.0 L432.0,341.0 L436.0,332.5 L448.7,326.0 L453.0,318.5 L459.0,319.0 L465.5,318.0 L476.4,293.0 L488.0,294.0 L493.0,284.0 L499.6,276.9 L510.3,287.0 L513.5,279.0 L518.1,253.8 L525.3,246.5 L532.5,237.5 L537.9,232.1 L543.3,242.9 L550.6,239.3 L556.0,221.3 L565.0,214.0 L568.4,206.0 L576.9,197.6 L583.7,204.4 L590.5,199.3 L597.3,187.4 L604.1,175.5 L612.6,170.4 L619.4,168.7 L624.4,172.1 L629.5,167.0 L636.3,160.2 L641.4,154.0 L645.0,154.5 L652.0,155.0 L657.0,155.5 L661.0,153.0 L666.0,153.5 L669.5,154.0 L674.7,165.0" stroke="#009E73" stroke-width="4.17" stroke-linecap="butt" stroke-dasharray="15.43 6.67"/>
</g>
<rect x="60.5" y="0.6" width="613.8" height="417.9" fill="none" stroke="#000" stroke-width="1.11" stroke-linecap="square"/>
<path d="M60.50,418.5 v4.86 M137.22,418.5 v4.86 M213.95,418.5 v4.86 M290.68,418.5 v4.86 M367.40,418.5 v4.86 M444.12,418.5 v4.86 M520.85,418.5 v4.86 M597.58,418.5 v4.86 M674.30,418.5 v4.86 M60.5,399.80 h-4.86 M60.5,348.13 h-4.86 M60.5,296.46 h-4.86 M60.5,244.79 h-4.86 M60.5,193.12 h-4.86 M60.5,141.45 h-4.86 M60.5,89.78 h-4.86 M60.5,38.11 h-4.86" stroke="#000" stroke-width="1.11" fill="none"/>
<g font-family="DejaVu Sans, sans-serif" font-size="19.44" fill="#000" stroke="#000" stroke-width="0.5">
<text transform="translate(60.50,442.9) scale(1,1.001)" text-anchor="middle">0</text>
<text transform="translate(137.22,442.9) scale(1,1.001)" text-anchor="middle">5</text>
<text transform="translate(213.95,442.9) scale(1,1.001)" text-anchor="middle">10</text>
<text transform="translate(290.68,442.9) scale(1,1.001)" text-anchor="middle">15</text>
<text transform="translate(367.40,442.9) scale(1,1.001)" text-anchor="middle">20</text>
<text transform="translate(444.12,442.9) scale(1,1.001)" text-anchor="middle">25</text>
<text transform="translate(520.85,442.9) scale(1,1.001)" text-anchor="middle">30</text>
<text transform="translate(597.58,442.9) scale(1,1.001)" text-anchor="middle">35</text>
<text transform="translate(674.30,442.9) scale(1,1.001)" text-anchor="middle">40</text>
<text transform="translate(50.9,407.00) scale(1,1.001)" text-anchor="end">0.0</text>
<text transform="translate(50.9,355.33) scale(1,1.001)" text-anchor="end">0.1</text>
<text transform="translate(50.9,303.66) scale(1,1.001)" text-anchor="end">0.2</text>
<text transform="translate(50.9,251.99) scale(1,1.001)" text-anchor="end">0.3</text>
<text transform="translate(50.9,200.32) scale(1,1.001)" text-anchor="end">0.4</text>
<text transform="translate(50.9,148.65) scale(1,1.001)" text-anchor="end">0.5</text>
<text transform="translate(50.9,96.98) scale(1,1.001)" text-anchor="end">0.6</text>
<text transform="translate(50.9,45.31) scale(1,1.001)" text-anchor="end">0.7</text>
<text transform="translate(367.2,466.5) scale(0.99,1.001)" text-anchor="middle">Frequency (Hz)</text>
<text transform="translate(10.8,209.7) rotate(-90) scale(1,1.001)" text-anchor="middle">a.u.</text>
</g>
<rect x="524.5" y="6.9" width="142.4" height="84.6" rx="2.8" fill="#fff" fill-opacity="0.8" stroke="#ccc" stroke-width="1.39"/>
<path d="M530,18.5 h27.8" stroke="#F0E442" stroke-width="4.17" stroke-linecap="square"/>
<text transform="translate(568.3,23.80) scale(1,1.001)" font-family="DejaVu Sans, sans-serif" font-size="13.9" fill="#000" stroke="#000" stroke-width="0.7">Component 1</text>
<path d="M530,38.5 h27.8" stroke="#CC79A7" stroke-width="4.17" stroke-linecap="square"/>
<text transform="translate(568.3,43.80) scale(1,1.001)" font-family="DejaVu Sans, sans-serif" font-size="13.9" fill="#000" stroke="#000" stroke-width="0.7">Component 2</text>
<path d="M530,58.5 h27.8" stroke="#56B4E9" stroke-width="4.17" stroke-linecap="square"/>
<text transform="translate(568.3,63.80) scale(1,1.001)" font-family="DejaVu Sans, sans-serif" font-size="13.9" fill="#000" stroke="#000" stroke-width="0.7">Component 3</text>
<path d="M530,78.5 h27.8" stroke="#009E73" stroke-width="4.17" stroke-linecap="square"/>
<text transform="translate(568.3,83.80) scale(1,1.001)" font-family="DejaVu Sans, sans-serif" font-size="13.9" fill="#000" stroke="#000" stroke-width="0.7">Component 4</text>
</svg>
</body></html>
